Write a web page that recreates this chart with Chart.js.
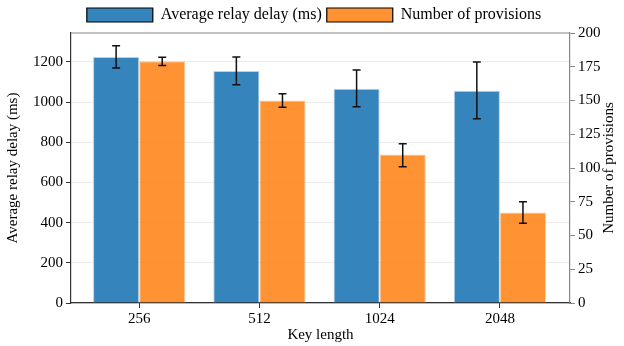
<!DOCTYPE html>
<html><head><meta charset="utf-8">
<script src="https://cdn.jsdelivr.net/npm/chart.js@4/dist/chart.umd.min.js"></script>
<style>html,body{margin:0;padding:0;background:#fff}#wrap{width:624px;height:346px}</style>
</head><body><div id="wrap"><canvas id="c" width="624" height="346"></canvas></div>
<script>
const categories = ['256', '512', '1024', '2048'];
const delayValues = [1225, 1155, 1066, 1056];
const delayErrLow = [1170, 1086, 977, 917];
const delayErrHigh = [1280, 1225, 1160, 1200];
const provisionValues = [179, 150, 110, 67];
const provisionErrLow = [176, 145, 101, 59];
const provisionErrHigh = [182, 155, 118, 75];
const leftTicks = [0, 200, 400, 600, 800, 1000, 1200];
const rightTicks = [0, 25, 50, 75, 100, 125, 150, 175, 200];

const FONT = "'Liberation Serif', 'Times New Roman', serif";
Chart.defaults.font.family = FONT;
Chart.defaults.color = '#000';

const blue = 'rgba(31,119,180,0.9)';
const orange = 'rgba(255,127,14,0.85)';

const errorBars = {
  id: 'errorBars',
  afterDatasetsDraw(chart) {
    const ctx = chart.ctx;
    const sets = [
      {meta: chart.getDatasetMeta(0), ys: chart.scales.y, lo: delayErrLow, hi: delayErrHigh},
      {meta: chart.getDatasetMeta(1), ys: chart.scales.y1, lo: provisionErrLow, hi: provisionErrHigh}
    ];
    ctx.save();
    ctx.strokeStyle = '#111';
    ctx.lineWidth = 1.5;
    sets.forEach(s => {
      s.meta.data.forEach((bar, i) => {
        const px = bar.x;
        const y1 = s.ys.getPixelForValue(s.lo[i]);
        const y2 = s.ys.getPixelForValue(s.hi[i]);
        ctx.beginPath();
        ctx.moveTo(px, y1); ctx.lineTo(px, y2);
        ctx.moveTo(px - 4, y1); ctx.lineTo(px + 4, y1);
        ctx.moveTo(px - 4, y2); ctx.lineTo(px + 4, y2);
        ctx.stroke();
      });
    });
    ctx.restore();
  }
};

const frame = {
  id: 'frame',
  afterDraw(chart) {
    const ctx = chart.ctx;
    const a = chart.chartArea;
    ctx.save();
    ctx.strokeStyle = '#888';
    ctx.lineWidth = 1.2;
    ctx.beginPath();
    ctx.moveTo(a.left, a.top); ctx.lineTo(a.right, a.top);
    ctx.stroke();
    ctx.fillStyle = '#000';
    ctx.font = '15px ' + FONT;
    ctx.textAlign = 'center';
    ctx.textBaseline = 'middle';
    ctx.translate(609, (a.top + a.bottom) / 2);
    ctx.rotate(-Math.PI / 2);
    ctx.fillText('Number of provisions', 0, 0);
    ctx.restore();
  }
};

new Chart(document.getElementById('c'), {
  type: 'bar',
  data: {
    datasets: [
      {label: 'Average relay delay (ms)', data: delayValues.map((v, i) => ({x: i, y: v})),
       backgroundColor: blue, borderColor: 'rgba(160,200,230,0.8)', borderWidth: 1, yAxisID: 'y',
       categoryPercentage: 0.767, barPercentage: 1.0},
      {label: 'Number of provisions', data: provisionValues.map((v, i) => ({x: i, y: v})),
       backgroundColor: orange, borderColor: 'rgba(255,190,130,0.8)', borderWidth: 1, yAxisID: 'y1',
       categoryPercentage: 0.767, barPercentage: 1.0}
    ]
  },
  options: {
    responsive: false,
    animation: false,
    layout: {padding: {top: 2, right: 0, left: 4, bottom: 2}},
    plugins: {
      legend: {
        position: 'top',
        labels: {
          font: {size: 16, family: FONT}, color: '#000',
          boxWidth: 66, boxHeight: 14, padding: 5,
          generateLabels(chart) {
            return chart.data.datasets.map((d, i) => ({
              text: d.label, fillStyle: d.backgroundColor, strokeStyle: '#000', lineWidth: 1.2,
              datasetIndex: i, hidden: false
            }));
          }
        }
      },
      tooltip: {enabled: false}
    },
    scales: {
      x: {
        type: 'linear', min: -0.567, max: 3.583, offset: false,
        afterBuildTicks(s) { s.ticks = categories.map((c, i) => ({value: i})); },
        afterFit(s) { s.height = 41; },
        ticks: {callback: (v) => categories[v] !== undefined ? categories[v] : '', font: {size: 15}, color: '#000', padding: 2, maxRotation: 0, autoSkip: false},
        grid: {display: true, offset: false, drawOnChartArea: false, tickLength: 5, tickColor: '#333'},
        border: {color: '#333', width: 1.2},
        title: {display: true, text: 'Key length', font: {size: 15}, color: '#000', padding: {top: 0, bottom: 0}}
      },
      y: {
        position: 'left', min: 0, max: 1344,
        afterBuildTicks(s) { s.ticks = leftTicks.map(v => ({value: v})); },
        afterFit(s) { s.width = 67; },
        ticks: {font: {size: 15}, color: '#000', padding: 3, callback: (v) => String(v)},
        grid: {color: 'rgba(0,0,0,0.08)', tickLength: 5, tickColor: '#333', lineWidth: 1},
        border: {color: '#333', width: 1.2},
        title: {display: true, text: 'Average relay delay (ms)', font: {size: 15}, color: '#000', padding: {top: 0, bottom: 2}}
      },
      y1: {
        position: 'right', min: 0, max: 200,
        afterBuildTicks(s) { s.ticks = rightTicks.map(v => ({value: v})); },
        afterFit(s) { s.width = 54; },
        ticks: {font: {size: 15}, color: '#000', padding: 3, callback: (v) => String(v)},
        grid: {drawOnChartArea: false, tickLength: 5, tickColor: '#888'},
        border: {color: '#888', width: 1.2}
      }
    }
  },
  plugins: [errorBars, frame]
});
</script></body></html>
